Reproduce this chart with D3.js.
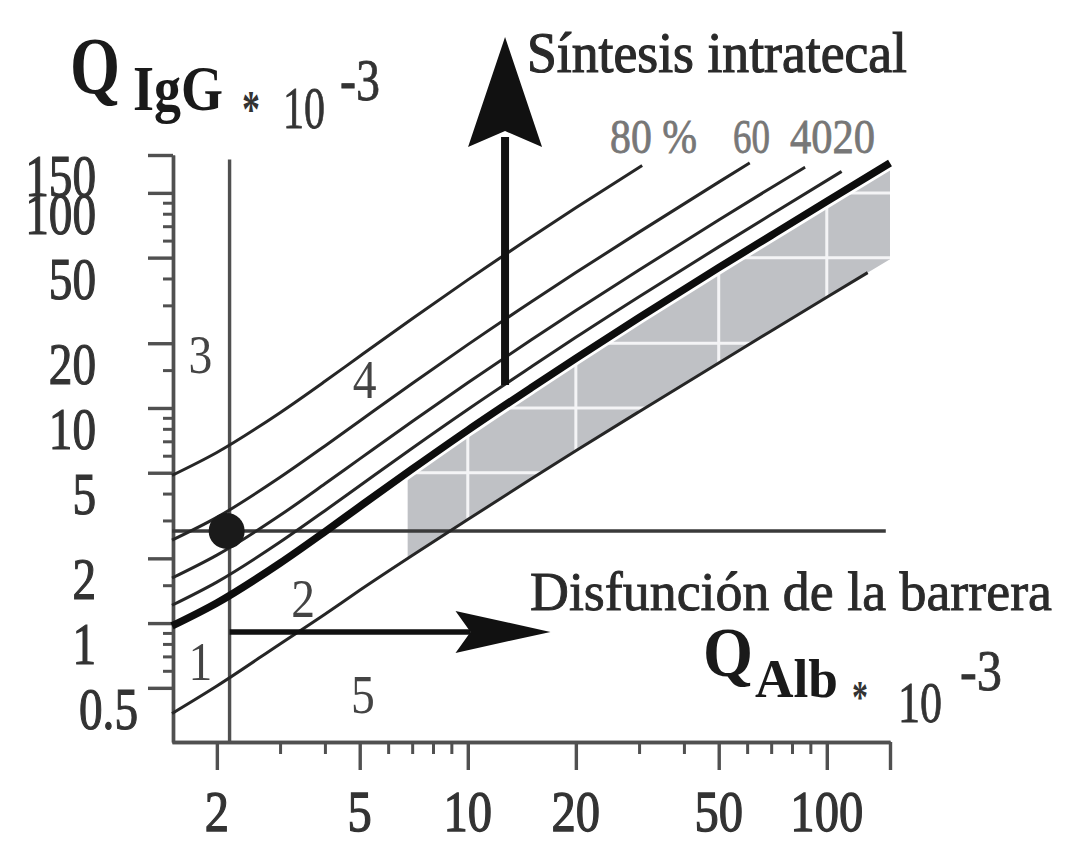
<!DOCTYPE html>
<html>
<head>
<meta charset="utf-8">
<script src="https://cdn.jsdelivr.net/npm/d3@7"></script>
<style>
  html, body { margin: 0; padding: 0; background: #fff; }
  svg { display: block; }
  text { font-family: "Liberation Serif", "DejaVu Serif", serif; }
</style>
</head>
<body>
<svg id="chart" width="1079" height="843"></svg>
<script>
// ---------------- DATA ----------------
// Q_Alb (x 10^-3) sample points
const qalb = [1.5, 2, 3, 4, 5, 7, 10, 15, 20, 30, 50, 70, 100, 150];
// Upper reference line (thick, Q_lim)
const qLim = [0.97, 1.24, 1.90, 2.66, 3.48, 5.20, 7.88, 12.4, 17.0, 26.3, 44.9, 63.4, 91.3, 137.8];
// Lower reference line (Q_low)
const qLowX = [1.5, 2, 3, 4, 5, 7, 10, 15, 20, 30, 50, 70, 100, 130];
const qLow  = [0.38, 0.51, 0.80, 1.10, 1.42, 2.06, 3.03, 4.67, 6.32, 9.61, 16.2, 22.8, 32.7, 42.6];
// Intrathecal fraction lines
const p20X = [1.5, 2, 3, 4, 5, 7, 10, 15, 20, 30, 50, 70, 110];
const p20  = [1.21, 1.55, 2.38, 3.33, 4.35, 6.50, 9.84, 15.5, 21.3, 32.9, 56.1, 79.3, 125.8];
const p40X = [1.5, 2, 3, 4, 5, 7, 10, 15, 20, 30, 50, 70, 87];
const p40  = [1.62, 2.07, 3.17, 4.44, 5.80, 8.66, 13.1, 20.7, 28.4, 43.8, 74.8, 105.7, 131.7];
const p60X = [1.5, 2, 3, 4, 5, 7, 10, 15, 20, 30, 50, 61];
const p60  = [2.43, 3.10, 4.76, 6.66, 8.70, 13.0, 19.7, 31.1, 42.6, 65.7, 112.2, 137.9];
const p80X = [1.5, 2, 3, 4, 5, 7, 10, 15, 20, 30.6];
const p80  = [4.86, 6.21, 9.51, 13.3, 17.4, 26.0, 39.4, 62.2, 85.2, 134];
// Grey reference area (between Q_low and Q_lim)
const shadeX    = [6.8, 7, 10, 15, 20, 30, 50, 70, 100, 150];
const shadeLow  = [1.99, 2.06, 3.03, 4.67, 6.32, 9.61, 16.2, 22.8, 32.7, 49.2];
const shadeHigh = [5.30, 5.45, 8.1, 12.7, 17.3, 26.6, 45.4, 64.0, 92.0, 138.5];
const shadeGridX = [10, 20, 50, 100];
const shadeGridY = [5, 10, 20, 50, 100];
// Axes
const xDomain = [1.5, 150];
const yDomain = [0.28, 150];
const xMajor = [2, 5, 10, 20, 50, 100, 150];
const xLabels = ["2", "5", "10", "20", "50", "100", ""];
const xMinor = [3, 4, 6, 7, 8, 9, 30, 40, 60, 70, 80, 90];
const yMajor = [0.5, 1, 2, 5, 10, 20, 50, 100, 150];
const yLabels = ["0.5", "1", "2", "5", "10", "20", "50", "100", "150"];
const yMinor = [0.6, 0.7, 0.8, 0.9, 1.5, 3, 4, 6, 7, 8, 9, 15, 30, 40, 60, 70, 80, 90];
// Reference markers
const ageLimitAlb = 2.17;      // vertical line
const patientAlb = 2.13;       // dot
const patientIgG = 2.68;       // dot + horizontal line
const hLineEnd = 146;
// Arrows
const synthArrow = { x: 12.7, yFrom: 12.8, yTo: 530 };
const barrierArrow = { y: 0.91, xFrom: 2.17, xTo: 17 };
// Labels
const pctLabels = ["80 %", "60", "4020"];
const regionLabels = ["1", "2", "3", "4", "5"];
const regionPos = [[1.8, 0.545], [3.48, 1.07], [1.8, 14.5], [5.16, 11.1], [5.1, 0.38]];

// ---------------- DRAWING ----------------
const svg = d3.select("#chart");
const x = d3.scaleLog().domain(xDomain).range([172, 890]);
const y = d3.scaleLog().domain(yDomain).range([742, 155]);

const line = d3.line().x(d => x(d[0])).y(d => y(d[1])).curve(d3.curveMonotoneX);
const zip = (a, b) => a.map((v, i) => [v, b[i]]);

// grey area
const area = d3.area()
  .x(d => x(d[0])).y0(d => y(d[1])).y1(d => y(d[2]))
  .curve(d3.curveMonotoneX);
const shadeData = shadeX.map((v, i) => [v, shadeLow[i], shadeHigh[i]]);
svg.append("clipPath").attr("id", "shadeClip")
  .append("path").attr("d", area(shadeData));
svg.append("path").attr("d", area(shadeData)).attr("fill", "#bfc1c5");
const gridG = svg.append("g").attr("clip-path", "url(#shadeClip)");
gridG.selectAll("line.gx").data(shadeGridX).join("line")
  .attr("x1", d => x(d)).attr("x2", d => x(d))
  .attr("y1", y(yDomain[0])).attr("y2", y(yDomain[1]))
  .attr("stroke", "#f4f4f6").attr("stroke-width", 3);
gridG.selectAll("line.gy").data(shadeGridY).join("line")
  .attr("y1", d => y(d)).attr("y2", d => y(d))
  .attr("x1", x(xDomain[0])).attr("x2", x(xDomain[1]))
  .attr("stroke", "#f4f4f6").attr("stroke-width", 3);

// white halo under thick line
svg.append("path").attr("d", line(zip(qalb, qLim)))
  .attr("fill", "none").attr("stroke", "#fff").attr("stroke-width", 13);

// axes
const axisColor = "#505050";
const yAxisMaj = d3.axisLeft(y).tickValues(yMajor).tickSize(25).tickSizeOuter(0).tickFormat("");
const yAxisMin = d3.axisLeft(y).tickValues(yMinor).tickSize(10).tickSizeOuter(0).tickFormat("");
const xAxisMaj = d3.axisBottom(x).tickValues(xMajor).tickSize(28).tickSizeOuter(0).tickFormat("");
const xAxisMin = d3.axisBottom(x).tickValues(xMinor).tickSize(12).tickSizeOuter(0).tickFormat("");
function styleAxis(g) {
  g.selectAll("path,line").attr("stroke", axisColor).attr("stroke-width", 3.4);
}
svg.append("g").attr("transform", "translate(173,0)").call(yAxisMaj).call(styleAxis);
svg.append("g").attr("transform", "translate(173,0)").call(yAxisMin).call(styleAxis)
  .selectAll("line").attr("stroke-width", 3);
svg.append("g").attr("transform", "translate(0,742)").call(xAxisMaj).call(styleAxis);
svg.append("g").attr("transform", "translate(0,742)").call(xAxisMin).call(styleAxis)
  .selectAll("line").attr("stroke-width", 3);

// tick labels
svg.append("g").selectAll("text").data(yMajor).join("text")
  .attr("transform", (d) => `translate(${d === 0.5 ? 138 : 96},${y(d) + 41}) scale(0.8,1)`)
  .attr("text-anchor", "end")
  .attr("font-size", 59).attr("fill", "#333")
  .attr("stroke", "#333").attr("stroke-width", 1.2)
  .text((d, i) => yLabels[i]);
svg.append("g").selectAll("text").data(xMajor).join("text")
  .attr("transform", d => `translate(${x(d)},831) scale(0.9,1.05)`)
  .attr("text-anchor", "middle")
  .attr("font-size", 54).attr("fill", "#333")
  .attr("stroke", "#333").attr("stroke-width", 1.2)
  .text((d, i) => xLabels[i]);

// vertical reference line and horizontal patient line
svg.append("line")
  .attr("x1", x(ageLimitAlb)).attr("x2", x(ageLimitAlb))
  .attr("y1", y(143)).attr("y2", y(yDomain[0]))
  .attr("stroke", "#505050").attr("stroke-width", 3.4);
svg.append("line")
  .attr("x1", x(xDomain[0])).attr("x2", x(hLineEnd))
  .attr("y1", y(patientIgG)).attr("y2", y(patientIgG))
  .attr("stroke", "#3a3a3a").attr("stroke-width", 3.4);

// thin lines
const thin = [[p80X, p80], [p60X, p60], [p40X, p40], [p20X, p20], [qLowX, qLow]];
thin.forEach(([xs, ys]) => {
  svg.append("path").attr("d", line(zip(xs, ys)))
    .attr("fill", "none").attr("stroke", "#262626").attr("stroke-width", 3);
});
// thick line
svg.append("path").attr("d", line(zip(qalb, qLim)))
  .attr("fill", "none").attr("stroke", "#0d0d0d").attr("stroke-width", 7.5);

// patient dot
svg.append("circle").attr("cx", x(patientAlb)).attr("cy", y(patientIgG)).attr("r", 18)
  .attr("fill", "#1a1a1a");

// arrows
(function () {
  const ax = x(synthArrow.x), y0 = y(synthArrow.yFrom), y1 = y(synthArrow.yTo);
  svg.append("line").attr("x1", ax).attr("x2", ax).attr("y1", y0).attr("y2", y1 + 100)
    .attr("stroke", "#111").attr("stroke-width", 8);
  svg.append("path")
    .attr("d", `M${ax},${y1} L${ax + 37},${y1 + 110} L${ax},${y1 + 94} L${ax - 37},${y1 + 110} Z`)
    .attr("fill", "#111");
  const hy = y(barrierArrow.y), hx0 = x(barrierArrow.xFrom), hx1 = x(barrierArrow.xTo);
  svg.append("line").attr("x1", hx0).attr("x2", hx1 - 80).attr("y1", hy).attr("y2", hy)
    .attr("stroke", "#111").attr("stroke-width", 5.5);
  svg.append("path")
    .attr("d", `M${hx1},${hy} L${hx1 - 95},${hy + 21} L${hx1 - 80},${hy} L${hx1 - 95},${hy - 21} Z`)
    .attr("fill", "#111");
})();

// text helper
function txt(str, xx, yy, size, len, opts = {}) {
  const t = svg.append("text")
    .attr("x", xx).attr("y", yy)
    .attr("font-size", size)
    .attr("font-weight", opts.bold ? "bold" : "normal")
    .attr("fill", opts.fill || "#222")
    .attr("text-anchor", opts.anchor || "start")
    .text(str);
  if (opts.stroke) t.attr("stroke", opts.fill || "#222").attr("stroke-width", opts.stroke);
  if (len) t.attr("textLength", len).attr("lengthAdjust", "spacingAndGlyphs");
  return t;
}

// y-axis title
txt("Q", 70, 93, 80, 50, { bold: true, fill: "#1a1a1a" });
txt("IgG", 133, 110, 64, 90, { bold: true, fill: "#1a1a1a" });
txt("*", 242, 127, 52, 18, { bold: true, fill: "#333" });
txt("10", 283, 128, 60, 42, { fill: "#333", stroke: 0.8 });
txt("-3", 340, 100, 60, 40, { fill: "#333", stroke: 0.8 });

// x-axis title
txt("Q", 703, 676, 70, 50, { bold: true, fill: "#1a1a1a" });
txt("Alb", 755, 697, 55, 83, { bold: true, fill: "#1a1a1a" });
txt("*", 852, 713, 46, 16, { bold: true, fill: "#333" });
txt("10", 898, 722, 58, 44, { fill: "#333", stroke: 0.8 });
txt("-3", 960, 690, 58, 42, { fill: "#333", stroke: 0.8 });

// annotations
txt("Síntesis intratecal", 527, 72, 58, 380, { fill: "#2a2a2a", stroke: 1.2 });
txt("Disfunción de la barrera", 530, 610, 55, 522, { fill: "#2a2a2a", stroke: 0.9 });
txt(pctLabels[0], 610, 153, 49, 87, { fill: "#777", stroke: 0.8 });
txt(pctLabels[1], 733, 153, 49, 37, { fill: "#777", stroke: 0.8 });
txt(pctLabels[2], 790, 153, 49, 85, { fill: "#777", stroke: 0.8 });

// region numbers
svg.append("g").selectAll("text").data(regionLabels).join("text")
  .attr("transform", (d, i) => `translate(${x(regionPos[i][0])},${y(regionPos[i][1])}) scale(0.85,1)`)
  .attr("text-anchor", "middle")
  .attr("font-size", 56).attr("fill", "#444")
  .text(d => d);
</script>
</body>
</html>
